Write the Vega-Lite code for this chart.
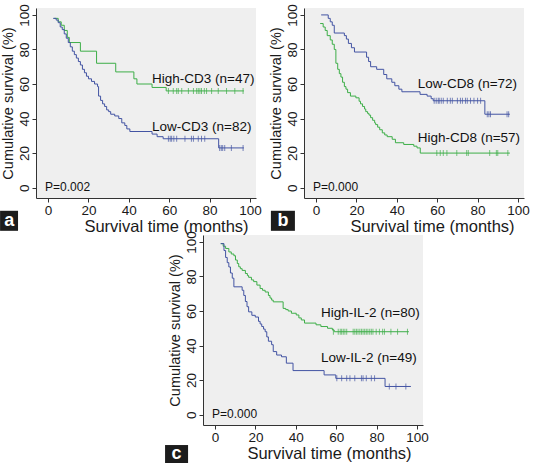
{
  "$schema": "https://vega.github.io/schema/vega-lite/v6.json",
  "background": "white",
  "padding": {"left": 0, "top": 3, "right": 0, "bottom": 0},
  "spacing": -9,
  "datasets": {
    "curves": [
      {"panel":"a","group":"High","t":3,"s":98},{"panel":"a","group":"High","t":5,"s":96},{"panel":"a","group":"High","t":6.5,"s":94},{"panel":"a","group":"High","t":8,"s":91},{"panel":"a","group":"High","t":9.5,"s":87},{"panel":"a","group":"High","t":10.5,"s":84},{"panel":"a","group":"High","t":16,"s":79},{"panel":"a","group":"High","t":24,"s":72},{"panel":"a","group":"High","t":33.5,"s":67},{"panel":"a","group":"High","t":42.5,"s":63},{"panel":"a","group":"High","t":44,"s":60},{"panel":"a","group":"High","t":51.5,"s":58},{"panel":"a","group":"High","t":58.5,"s":56},{"panel":"a","group":"High","t":97,"s":56},
      {"panel":"a","group":"Low","t":2.5,"s":98},{"panel":"a","group":"Low","t":4,"s":97},{"panel":"a","group":"Low","t":5,"s":95.5},{"panel":"a","group":"Low","t":6,"s":93},{"panel":"a","group":"Low","t":7,"s":91.5},{"panel":"a","group":"Low","t":8,"s":89},{"panel":"a","group":"Low","t":9,"s":86.5},{"panel":"a","group":"Low","t":10,"s":84},{"panel":"a","group":"Low","t":11,"s":81.5},{"panel":"a","group":"Low","t":12,"s":79},{"panel":"a","group":"Low","t":13,"s":77},{"panel":"a","group":"Low","t":14,"s":75},{"panel":"a","group":"Low","t":15,"s":73},{"panel":"a","group":"Low","t":16,"s":71},{"panel":"a","group":"Low","t":17,"s":68.5},{"panel":"a","group":"Low","t":18,"s":66.5},{"panel":"a","group":"Low","t":19,"s":64.5},{"panel":"a","group":"Low","t":20,"s":63},{"panel":"a","group":"Low","t":21.5,"s":61.5},{"panel":"a","group":"Low","t":23,"s":60},{"panel":"a","group":"Low","t":24.5,"s":58.5},{"panel":"a","group":"Low","t":25,"s":53},{"panel":"a","group":"Low","t":26,"s":50.5},{"panel":"a","group":"Low","t":27,"s":48.5},{"panel":"a","group":"Low","t":28,"s":47},{"panel":"a","group":"Low","t":29,"s":45},{"panel":"a","group":"Low","t":30,"s":44},{"panel":"a","group":"Low","t":31,"s":42.5},{"panel":"a","group":"Low","t":33,"s":41.5},{"panel":"a","group":"Low","t":35,"s":40},{"panel":"a","group":"Low","t":36.5,"s":37.5},{"panel":"a","group":"Low","t":38,"s":36},{"panel":"a","group":"Low","t":39,"s":34},{"panel":"a","group":"Low","t":40.5,"s":32.5},{"panel":"a","group":"Low","t":51.5,"s":31},{"panel":"a","group":"Low","t":54,"s":29.5},{"panel":"a","group":"Low","t":57,"s":28.3},{"panel":"a","group":"Low","t":84.5,"s":23},{"panel":"a","group":"Low","t":97,"s":23},
      {"panel":"b","group":"Low","t":2.5,"s":100},{"panel":"b","group":"Low","t":6,"s":98},{"panel":"b","group":"Low","t":7,"s":96},{"panel":"b","group":"Low","t":8,"s":94},{"panel":"b","group":"Low","t":9,"s":89.5},{"panel":"b","group":"Low","t":14,"s":88},{"panel":"b","group":"Low","t":15,"s":86},{"panel":"b","group":"Low","t":16,"s":83.5},{"panel":"b","group":"Low","t":17.5,"s":81},{"panel":"b","group":"Low","t":19,"s":78.5},{"panel":"b","group":"Low","t":25,"s":75.5},{"panel":"b","group":"Low","t":26,"s":73},{"panel":"b","group":"Low","t":27,"s":70},{"panel":"b","group":"Low","t":30,"s":68.5},{"panel":"b","group":"Low","t":33.5,"s":65.5},{"panel":"b","group":"Low","t":35,"s":63},{"panel":"b","group":"Low","t":37.5,"s":61},{"panel":"b","group":"Low","t":39,"s":59},{"panel":"b","group":"Low","t":41,"s":57},{"panel":"b","group":"Low","t":42.5,"s":55.5},{"panel":"b","group":"Low","t":51.5,"s":54},{"panel":"b","group":"Low","t":55,"s":53},{"panel":"b","group":"Low","t":57,"s":51.5},{"panel":"b","group":"Low","t":58,"s":50.3},{"panel":"b","group":"Low","t":83.6,"s":42.5},{"panel":"b","group":"Low","t":96,"s":42.5},
      {"panel":"b","group":"High","t":2,"s":95},{"panel":"b","group":"High","t":3.5,"s":93},{"panel":"b","group":"High","t":4.5,"s":91},{"panel":"b","group":"High","t":5.5,"s":88},{"panel":"b","group":"High","t":7,"s":85.5},{"panel":"b","group":"High","t":8,"s":83},{"panel":"b","group":"High","t":9,"s":80},{"panel":"b","group":"High","t":9.8,"s":72},{"panel":"b","group":"High","t":10.7,"s":68.5},{"panel":"b","group":"High","t":11.5,"s":66},{"panel":"b","group":"High","t":12.3,"s":64},{"panel":"b","group":"High","t":13.1,"s":61},{"panel":"b","group":"High","t":14,"s":58.5},{"panel":"b","group":"High","t":14.8,"s":57},{"panel":"b","group":"High","t":15.6,"s":55},{"panel":"b","group":"High","t":17,"s":53},{"panel":"b","group":"High","t":19.7,"s":52},{"panel":"b","group":"High","t":21.3,"s":50},{"panel":"b","group":"High","t":22,"s":48.5},{"panel":"b","group":"High","t":23,"s":47},{"panel":"b","group":"High","t":24,"s":45.5},{"panel":"b","group":"High","t":24.6,"s":44},{"panel":"b","group":"High","t":25.5,"s":43},{"panel":"b","group":"High","t":26.2,"s":42},{"panel":"b","group":"High","t":27,"s":40.5},{"panel":"b","group":"High","t":28,"s":39},{"panel":"b","group":"High","t":29,"s":37.5},{"panel":"b","group":"High","t":29.5,"s":36.5},{"panel":"b","group":"High","t":30.5,"s":35},{"panel":"b","group":"High","t":31.5,"s":33.5},{"panel":"b","group":"High","t":32.8,"s":31.7},{"panel":"b","group":"High","t":34,"s":30.5},{"panel":"b","group":"High","t":35.2,"s":29.5},{"panel":"b","group":"High","t":37.7,"s":28},{"panel":"b","group":"High","t":39.3,"s":26},{"panel":"b","group":"High","t":43.4,"s":25},{"panel":"b","group":"High","t":48.4,"s":24},{"panel":"b","group":"High","t":50,"s":23},{"panel":"b","group":"High","t":51.6,"s":20},{"panel":"b","group":"High","t":96,"s":20},
      {"panel":"c","group":"High","t":2.8,"s":99},{"panel":"c","group":"High","t":4,"s":97.5},{"panel":"c","group":"High","t":5.2,"s":96.2},{"panel":"c","group":"High","t":6.8,"s":94.2},{"panel":"c","group":"High","t":8,"s":93},{"panel":"c","group":"High","t":9.3,"s":92},{"panel":"c","group":"High","t":10.1,"s":89.5},{"panel":"c","group":"High","t":11,"s":87.5},{"panel":"c","group":"High","t":11.7,"s":85.6},{"panel":"c","group":"High","t":12.5,"s":84.5},{"panel":"c","group":"High","t":13.4,"s":83.5},{"panel":"c","group":"High","t":15,"s":81.7},{"panel":"c","group":"High","t":16,"s":80.5},{"panel":"c","group":"High","t":16.6,"s":79.5},{"panel":"c","group":"High","t":18,"s":78},{"panel":"c","group":"High","t":19.1,"s":77},{"panel":"c","group":"High","t":20.7,"s":75},{"panel":"c","group":"High","t":22.3,"s":73},{"panel":"c","group":"High","t":23.5,"s":72},{"panel":"c","group":"High","t":24.8,"s":71},{"panel":"c","group":"High","t":26.4,"s":69},{"panel":"c","group":"High","t":27.2,"s":67.5},{"panel":"c","group":"High","t":28,"s":66.3},{"panel":"c","group":"High","t":28.8,"s":65.3},{"panel":"c","group":"High","t":33.7,"s":61.5},{"panel":"c","group":"High","t":35,"s":60.8},{"panel":"c","group":"High","t":36.2,"s":60},{"panel":"c","group":"High","t":37.8,"s":58.7},{"panel":"c","group":"High","t":40.2,"s":57.7},{"panel":"c","group":"High","t":41.5,"s":56},{"panel":"c","group":"High","t":42.7,"s":54.8},{"panel":"c","group":"High","t":44.3,"s":53},{"panel":"c","group":"High","t":50,"s":52},{"panel":"c","group":"High","t":52.4,"s":51},{"panel":"c","group":"High","t":55.7,"s":50},{"panel":"c","group":"High","t":58.1,"s":49},{"panel":"c","group":"High","t":59,"s":48},{"panel":"c","group":"High","t":96,"s":48},
      {"panel":"c","group":"Low","t":2.8,"s":99},{"panel":"c","group":"Low","t":4.4,"s":95},{"panel":"c","group":"Low","t":5.2,"s":91},{"panel":"c","group":"Low","t":6,"s":88},{"panel":"c","group":"Low","t":6.8,"s":85.5},{"panel":"c","group":"Low","t":7.6,"s":82},{"panel":"c","group":"Low","t":8.5,"s":79},{"panel":"c","group":"Low","t":9.3,"s":74},{"panel":"c","group":"Low","t":13.4,"s":72},{"panel":"c","group":"Low","t":14.2,"s":69},{"panel":"c","group":"Low","t":15,"s":65.5},{"panel":"c","group":"Low","t":15.8,"s":62.5},{"panel":"c","group":"Low","t":16.6,"s":59.5},{"panel":"c","group":"Low","t":18.2,"s":57.5},{"panel":"c","group":"Low","t":19.9,"s":56.5},{"panel":"c","group":"Low","t":21.5,"s":54},{"panel":"c","group":"Low","t":22.3,"s":52.5},{"panel":"c","group":"Low","t":23.1,"s":51},{"panel":"c","group":"Low","t":24,"s":49.5},{"panel":"c","group":"Low","t":24.8,"s":48},{"panel":"c","group":"Low","t":25.6,"s":45},{"panel":"c","group":"Low","t":26.4,"s":42.5},{"panel":"c","group":"Low","t":28,"s":40.5},{"panel":"c","group":"Low","t":28.8,"s":36.5},{"panel":"c","group":"Low","t":30.5,"s":34.5},{"panel":"c","group":"Low","t":32.9,"s":33.5},{"panel":"c","group":"Low","t":35.3,"s":29.8},{"panel":"c","group":"Low","t":38.6,"s":25.5},{"panel":"c","group":"Low","t":54,"s":23},{"panel":"c","group":"Low","t":59.8,"s":21},{"panel":"c","group":"Low","t":84.2,"s":16.3},{"panel":"c","group":"Low","t":97,"s":16.3}
    ],
    "censor": [
      {"panel":"a","group":"High","t":59.6,"s":56},{"panel":"a","group":"High","t":62,"s":56},{"panel":"a","group":"High","t":63.7,"s":56},{"panel":"a","group":"High","t":64.5,"s":56},{"panel":"a","group":"High","t":66.2,"s":56},{"panel":"a","group":"High","t":69.5,"s":56},{"panel":"a","group":"High","t":72,"s":56},{"panel":"a","group":"High","t":73.6,"s":56},{"panel":"a","group":"High","t":74.4,"s":56},{"panel":"a","group":"High","t":75.2,"s":56},{"panel":"a","group":"High","t":76,"s":56},{"panel":"a","group":"High","t":77.4,"s":56},{"panel":"a","group":"High","t":78.5,"s":56},{"panel":"a","group":"High","t":81,"s":56},{"panel":"a","group":"High","t":84.3,"s":56},{"panel":"a","group":"High","t":88.4,"s":56},{"panel":"a","group":"High","t":92.5,"s":56},{"panel":"a","group":"High","t":96.6,"s":56},
      {"panel":"a","group":"Low","t":59.6,"s":28.3},{"panel":"a","group":"Low","t":60.5,"s":28.3},{"panel":"a","group":"Low","t":61.2,"s":28.3},{"panel":"a","group":"Low","t":62.3,"s":28.3},{"panel":"a","group":"Low","t":63.7,"s":28.3},{"panel":"a","group":"Low","t":67.8,"s":28.3},{"panel":"a","group":"Low","t":71,"s":28.3},{"panel":"a","group":"Low","t":72,"s":28.3},{"panel":"a","group":"Low","t":74.4,"s":28.3},{"panel":"a","group":"Low","t":76,"s":28.3},{"panel":"a","group":"Low","t":77.6,"s":28.3},{"panel":"a","group":"Low","t":85,"s":23},{"panel":"a","group":"Low","t":85.8,"s":23},{"panel":"a","group":"Low","t":86.5,"s":23},{"panel":"a","group":"Low","t":87.5,"s":23},{"panel":"a","group":"Low","t":90.8,"s":23},{"panel":"a","group":"Low","t":96.6,"s":23},
      {"panel":"b","group":"Low","t":58.5,"s":50.3},{"panel":"b","group":"Low","t":59.5,"s":50.3},{"panel":"b","group":"Low","t":60.5,"s":50.3},{"panel":"b","group":"Low","t":61,"s":50.3},{"panel":"b","group":"Low","t":62,"s":50.3},{"panel":"b","group":"Low","t":63,"s":50.3},{"panel":"b","group":"Low","t":65,"s":50.3},{"panel":"b","group":"Low","t":66.5,"s":50.3},{"panel":"b","group":"Low","t":67.5,"s":50.3},{"panel":"b","group":"Low","t":70,"s":50.3},{"panel":"b","group":"Low","t":71.5,"s":50.3},{"panel":"b","group":"Low","t":72.5,"s":50.3},{"panel":"b","group":"Low","t":74,"s":50.3},{"panel":"b","group":"Low","t":74.9,"s":50.3},{"panel":"b","group":"Low","t":76.5,"s":50.3},{"panel":"b","group":"Low","t":78.2,"s":50.3},{"panel":"b","group":"Low","t":80,"s":50.3},{"panel":"b","group":"Low","t":81.5,"s":50.3},{"panel":"b","group":"Low","t":84.8,"s":42.5},{"panel":"b","group":"Low","t":85.6,"s":42.5},{"panel":"b","group":"Low","t":86.4,"s":42.5},{"panel":"b","group":"Low","t":94.6,"s":42.5},{"panel":"b","group":"Low","t":95.4,"s":42.5},
      {"panel":"b","group":"High","t":59.8,"s":20},{"panel":"b","group":"High","t":61.5,"s":20},{"panel":"b","group":"High","t":63,"s":20},{"panel":"b","group":"High","t":64.8,"s":20},{"panel":"b","group":"High","t":69.7,"s":20},{"panel":"b","group":"High","t":74.6,"s":20},{"panel":"b","group":"High","t":75.4,"s":20},{"panel":"b","group":"High","t":86,"s":20},{"panel":"b","group":"High","t":89.3,"s":20},{"panel":"b","group":"High","t":90,"s":20},{"panel":"b","group":"High","t":95,"s":20},
      {"panel":"c","group":"High","t":58.6,"s":48},{"panel":"c","group":"High","t":61,"s":48},{"panel":"c","group":"High","t":62,"s":48},{"panel":"c","group":"High","t":62.7,"s":48},{"panel":"c","group":"High","t":63.5,"s":48},{"panel":"c","group":"High","t":64.3,"s":48},{"panel":"c","group":"High","t":65.2,"s":48},{"panel":"c","group":"High","t":68.4,"s":48},{"panel":"c","group":"High","t":69.2,"s":48},{"panel":"c","group":"High","t":70,"s":48},{"panel":"c","group":"High","t":70.8,"s":48},{"panel":"c","group":"High","t":71.7,"s":48},{"panel":"c","group":"High","t":72.5,"s":48},{"panel":"c","group":"High","t":73.3,"s":48},{"panel":"c","group":"High","t":74.1,"s":48},{"panel":"c","group":"High","t":74.9,"s":48},{"panel":"c","group":"High","t":75.7,"s":48},{"panel":"c","group":"High","t":76.6,"s":48},{"panel":"c","group":"High","t":77.4,"s":48},{"panel":"c","group":"High","t":78.2,"s":48},{"panel":"c","group":"High","t":79.8,"s":48},{"panel":"c","group":"High","t":81.4,"s":48},{"panel":"c","group":"High","t":83,"s":48},{"panel":"c","group":"High","t":83.9,"s":48},{"panel":"c","group":"High","t":87.1,"s":48},{"panel":"c","group":"High","t":90.4,"s":48},{"panel":"c","group":"High","t":95.3,"s":48},
      {"panel":"c","group":"Low","t":60.3,"s":21},{"panel":"c","group":"Low","t":62.7,"s":21},{"panel":"c","group":"Low","t":65.2,"s":21},{"panel":"c","group":"Low","t":66.8,"s":21},{"panel":"c","group":"Low","t":69.2,"s":21},{"panel":"c","group":"Low","t":72.5,"s":21},{"panel":"c","group":"Low","t":73.3,"s":21},{"panel":"c","group":"Low","t":74.9,"s":21},{"panel":"c","group":"Low","t":77.4,"s":21},{"panel":"c","group":"Low","t":79,"s":21},{"panel":"c","group":"Low","t":86.3,"s":16.3},{"panel":"c","group":"Low","t":89.6,"s":16.3},{"panel":"c","group":"Low","t":94.5,"s":16.3}
    ],
    "notes": [
      {"panel":"a","t":51.5,"s":63,"label":"High-CD3 (n=47)","kind":"group"},
      {"panel":"a","t":51.5,"s":35,"label":"Low-CD3 (n=82)","kind":"group"},
      {"panel":"a","t":-1.5,"s":0.5,"label":"P=0.002","kind":"p"},
      {"panel":"b","t":50.3,"s":60,"label":"Low-CD8 (n=72)","kind":"group"},
      {"panel":"b","t":50.3,"s":29,"label":"High-CD8 (n=57)","kind":"group"},
      {"panel":"b","t":-1.5,"s":0.5,"label":"P=0.000","kind":"p"},
      {"panel":"c","t":52.5,"s":59,"label":"High-IL-2 (n=80)","kind":"group"},
      {"panel":"c","t":52.5,"s":32.7,"label":"Low-IL-2 (n=49)","kind":"group"},
      {"panel":"c","t":-1.5,"s":0.5,"label":"P=0.000","kind":"p"}
    ]
  },
  "vconcat": [
    {
      "bounds": "flush",
      "spacing": 48,
      "hconcat": [
        {
          "width": 220, "height": 190,
          "view": {"fill": "#efefef", "stroke": null},
          "layer": [
            {"data": {"name": "curves"}, "transform": [{"filter": "datum.panel === 'a'"}],
             "mark": {"type": "line", "interpolate": "step-after", "strokeWidth": 1},
             "encoding": {
               "x": {"field": "t", "type": "quantitative", "scale": {"domain": [-6, 103], "nice": false, "zero": false}, "axis": {"values": [0,20,40,60,80,100], "title": "Survival time (months)", "titleX": 130, "titleAlign": "center", "labelOverlap": false}},
               "y": {"field": "s", "type": "quantitative", "scale": {"domain": [-6, 104], "nice": false, "zero": false}, "axis": {"values": [0,20,40,60,80,100], "title": "Cumulative survival (%)", "labelAngle": -90, "labelOverlap": false}},
               "color": {"field": "group", "type": "nominal", "scale": {"domain": ["High", "Low"], "range": ["#3dae48", "#4354a3"]}, "legend": null}}},
            {"data": {"name": "censor"}, "transform": [{"filter": "datum.panel === 'a'"}],
             "mark": {"type": "tick", "orient": "vertical", "size": 6, "thickness": 1},
             "encoding": {
               "x": {"field": "t", "type": "quantitative", "axis": {"values": [0,20,40,60,80,100], "title": "Survival time (months)", "titleX": 130, "titleAlign": "center", "labelOverlap": false}},
               "y": {"field": "s", "type": "quantitative", "axis": {"values": [0,20,40,60,80,100], "title": "Cumulative survival (%)", "labelAngle": -90, "labelOverlap": false}},
               "color": {"field": "group", "type": "nominal", "legend": null}}},
            {"data": {"name": "notes"}, "transform": [{"filter": "datum.panel === 'a'"}],
             "mark": {"type": "text", "align": "left", "baseline": "middle", "font": "Liberation Sans", "color": "#111"},
             "encoding": {
               "x": {"field": "t", "type": "quantitative", "axis": {"values": [0,20,40,60,80,100], "title": "Survival time (months)", "titleX": 130, "titleAlign": "center", "labelOverlap": false}},
               "y": {"field": "s", "type": "quantitative", "axis": {"values": [0,20,40,60,80,100], "title": "Cumulative survival (%)", "labelAngle": -90, "labelOverlap": false}},
               "text": {"field": "label"},
               "size": {"field": "kind", "type": "nominal", "scale": {"domain": ["group", "p"], "range": [13.5, 12]}, "legend": null}}},
            {"data": {"values": [{"letter": "a"}]},
             "mark": {"type": "rect", "color": "#1c1c1c"},
             "encoding": {"x": {"datum": -23.8, "axis": {"values": [0,20,40,60,80,100], "title": "Survival time (months)", "titleX": 130, "titleAlign": "center", "labelOverlap": false}}, "x2": {"datum": -14.9}, "y": {"datum": -13.4, "axis": {"values": [0,20,40,60,80,100], "title": "Cumulative survival (%)", "labelAngle": -90, "labelOverlap": false}}, "y2": {"datum": -25}}},
            {"data": {"values": [{"letter": "a"}]},
             "mark": {"type": "text", "color": "white", "fontSize": 18, "fontWeight": "bold", "font": "Liberation Sans", "baseline": "middle", "align": "center"},
             "encoding": {"x": {"datum": -19.3, "axis": {"values": [0,20,40,60,80,100], "title": "Survival time (months)", "titleX": 130, "titleAlign": "center", "labelOverlap": false}}, "y": {"datum": -19.2, "axis": {"values": [0,20,40,60,80,100], "title": "Cumulative survival (%)", "labelAngle": -90, "labelOverlap": false}}, "text": {"field": "letter"}}}
          ]
        },
        {
          "width": 220, "height": 190,
          "view": {"fill": "#efefef", "stroke": null},
          "layer": [
            {"data": {"name": "curves"}, "transform": [{"filter": "datum.panel === 'b'"}],
             "mark": {"type": "line", "interpolate": "step-after", "strokeWidth": 1},
             "encoding": {
               "x": {"field": "t", "type": "quantitative", "scale": {"domain": [-6, 103], "nice": false, "zero": false}, "axis": {"values": [0,20,40,60,80,100], "title": "Survival time (months)", "titleX": 128, "titleAlign": "center", "labelOverlap": false}},
               "y": {"field": "s", "type": "quantitative", "scale": {"domain": [-6, 104], "nice": false, "zero": false}, "axis": {"values": [0,20,40,60,80,100], "title": "Cumulative survival (%)", "labelAngle": -90, "labelOverlap": false}},
               "color": {"field": "group", "type": "nominal", "scale": {"domain": ["High", "Low"], "range": ["#3dae48", "#4354a3"]}, "legend": null}}},
            {"data": {"name": "censor"}, "transform": [{"filter": "datum.panel === 'b'"}],
             "mark": {"type": "tick", "orient": "vertical", "size": 6, "thickness": 1},
             "encoding": {
               "x": {"field": "t", "type": "quantitative", "axis": {"values": [0,20,40,60,80,100], "title": "Survival time (months)", "titleX": 128, "titleAlign": "center", "labelOverlap": false}},
               "y": {"field": "s", "type": "quantitative", "axis": {"values": [0,20,40,60,80,100], "title": "Cumulative survival (%)", "labelAngle": -90, "labelOverlap": false}},
               "color": {"field": "group", "type": "nominal", "legend": null}}},
            {"data": {"name": "notes"}, "transform": [{"filter": "datum.panel === 'b'"}],
             "mark": {"type": "text", "align": "left", "baseline": "middle", "font": "Liberation Sans", "color": "#111"},
             "encoding": {
               "x": {"field": "t", "type": "quantitative", "axis": {"values": [0,20,40,60,80,100], "title": "Survival time (months)", "titleX": 128, "titleAlign": "center", "labelOverlap": false}},
               "y": {"field": "s", "type": "quantitative", "axis": {"values": [0,20,40,60,80,100], "title": "Cumulative survival (%)", "labelAngle": -90, "labelOverlap": false}},
               "text": {"field": "label"},
               "size": {"field": "kind", "type": "nominal", "scale": {"domain": ["group", "p"], "range": [13.5, 12]}, "legend": null}}},
            {"data": {"values": [{"letter": "b"}]},
             "mark": {"type": "rect", "color": "#1c1c1c"},
             "encoding": {"x": {"datum": -22.4, "axis": {"values": [0,20,40,60,80,100], "title": "Survival time (months)", "titleX": 128, "titleAlign": "center", "labelOverlap": false}}, "x2": {"datum": -10.5}, "y": {"datum": -13.4, "axis": {"values": [0,20,40,60,80,100], "title": "Cumulative survival (%)", "labelAngle": -90, "labelOverlap": false}}, "y2": {"datum": -25}}},
            {"data": {"values": [{"letter": "b"}]},
             "mark": {"type": "text", "color": "white", "fontSize": 18, "fontWeight": "bold", "font": "Liberation Sans", "baseline": "middle", "align": "center"},
             "encoding": {"x": {"datum": -16.45, "axis": {"values": [0,20,40,60,80,100], "title": "Survival time (months)", "titleX": 128, "titleAlign": "center", "labelOverlap": false}}, "y": {"datum": -19.2, "axis": {"values": [0,20,40,60,80,100], "title": "Cumulative survival (%)", "labelAngle": -90, "labelOverlap": false}}, "text": {"field": "letter"}}}
          ]
        }
      ]
    },
    {
      "bounds": "flush",
      "spacing": 48,
      "hconcat": [
        {
          "width": 119, "height": 190,
          "view": {"fill": "white", "stroke": null},
          "data": {"values": [{"letter": ""}]},
          "mark": {"type": "text"},
          "encoding": {"text": {"field": "letter"}}
        },
        {
          "width": 220, "height": 190,
          "view": {"fill": "#efefef", "stroke": null},
          "layer": [
            {"data": {"name": "curves"}, "transform": [{"filter": "datum.panel === 'c'"}],
             "mark": {"type": "line", "interpolate": "step-after", "strokeWidth": 1},
             "encoding": {
               "x": {"field": "t", "type": "quantitative", "scale": {"domain": [-6, 103], "nice": false, "zero": false}, "axis": {"values": [0,20,40,60,80,100], "title": "Survival time (months)", "titleX": 126, "titleAlign": "center", "labelOverlap": false}},
               "y": {"field": "s", "type": "quantitative", "scale": {"domain": [-6, 104], "nice": false, "zero": false}, "axis": {"values": [0,20,40,60,80,100], "title": "Cumulative survival (%)", "labelAngle": -90, "labelOverlap": false}},
               "color": {"field": "group", "type": "nominal", "scale": {"domain": ["High", "Low"], "range": ["#3dae48", "#4354a3"]}, "legend": null}}},
            {"data": {"name": "censor"}, "transform": [{"filter": "datum.panel === 'c'"}],
             "mark": {"type": "tick", "orient": "vertical", "size": 6, "thickness": 1},
             "encoding": {
               "x": {"field": "t", "type": "quantitative", "axis": {"values": [0,20,40,60,80,100], "title": "Survival time (months)", "titleX": 126, "titleAlign": "center", "labelOverlap": false}},
               "y": {"field": "s", "type": "quantitative", "axis": {"values": [0,20,40,60,80,100], "title": "Cumulative survival (%)", "labelAngle": -90, "labelOverlap": false}},
               "color": {"field": "group", "type": "nominal", "legend": null}}},
            {"data": {"name": "notes"}, "transform": [{"filter": "datum.panel === 'c'"}],
             "mark": {"type": "text", "align": "left", "baseline": "middle", "font": "Liberation Sans", "color": "#111"},
             "encoding": {
               "x": {"field": "t", "type": "quantitative", "axis": {"values": [0,20,40,60,80,100], "title": "Survival time (months)", "titleX": 126, "titleAlign": "center", "labelOverlap": false}},
               "y": {"field": "s", "type": "quantitative", "axis": {"values": [0,20,40,60,80,100], "title": "Cumulative survival (%)", "labelAngle": -90, "labelOverlap": false}},
               "text": {"field": "label"},
               "size": {"field": "kind", "type": "nominal", "scale": {"domain": ["group", "p"], "range": [13.5, 12]}, "legend": null}}},
            {"data": {"values": [{"letter": "c"}]},
             "mark": {"type": "rect", "color": "#1c1c1c"},
             "encoding": {"x": {"datum": -24.8, "axis": {"values": [0,20,40,60,80,100], "title": "Survival time (months)", "titleX": 126, "titleAlign": "center", "labelOverlap": false}}, "x2": {"datum": -13.4}, "y": {"datum": -17.6, "axis": {"values": [0,20,40,60,80,100], "title": "Cumulative survival (%)", "labelAngle": -90, "labelOverlap": false}}, "y2": {"datum": -28}}},
            {"data": {"values": [{"letter": "c"}]},
             "mark": {"type": "text", "color": "white", "fontSize": 18, "fontWeight": "bold", "font": "Liberation Sans", "baseline": "middle", "align": "center"},
             "encoding": {"x": {"datum": -19.1, "axis": {"values": [0,20,40,60,80,100], "title": "Survival time (months)", "titleX": 126, "titleAlign": "center", "labelOverlap": false}}, "y": {"datum": -22.8, "axis": {"values": [0,20,40,60,80,100], "title": "Cumulative survival (%)", "labelAngle": -90, "labelOverlap": false}}, "text": {"field": "letter"}}}
          ]
        }
      ]
    }
  ],
  "config": {
    "view": {"stroke": null},
    "axis": {
      "grid": false,
      "domainColor": "#333333",
      "tickColor": "#333333",
      "labelColor": "#1a1a1a",
      "titleColor": "#1a1a1a",
      "labelFont": "Liberation Sans",
      "titleFont": "Liberation Sans",
      "labelFontSize": 13.5,
      "titleFontWeight": "normal",
      "tickSize": 4,
      "labelPadding": 1,
      "labelOverlap": false,
      "labelFlush": false
    },
    "axisX": {"titlePadding": 2, "titleFontSize": 16.5},
    "axisY": {"titlePadding": 2, "titleFontSize": 14.5}
  }
}
